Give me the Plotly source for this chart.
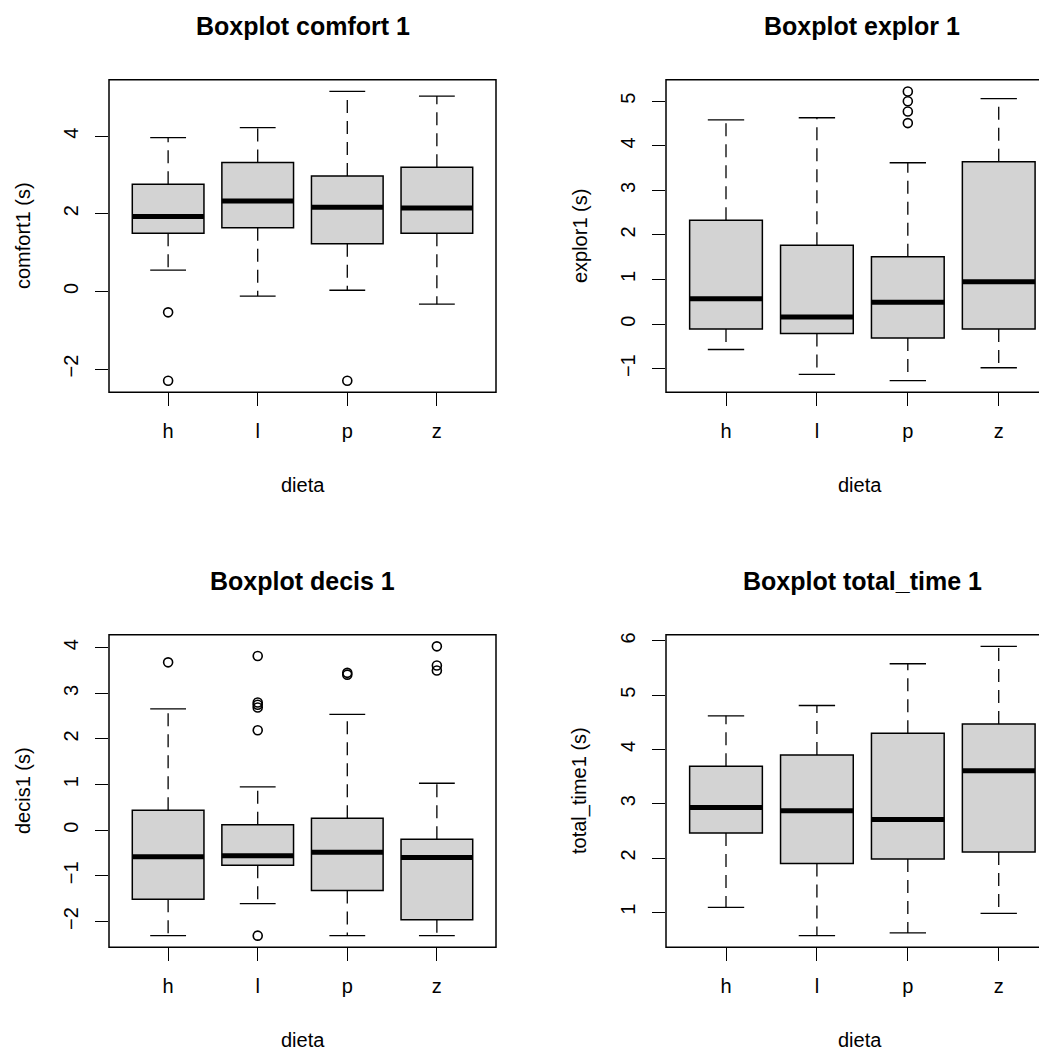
import plotly.graph_objects as go

categories = ["h", "l", "p", "z"]
positions = [1, 2, 3, 4]

# comfort1
comfort_lower = [0.55, -0.12, 0.03, -0.33]
comfort_q1 = [1.50, 1.64, 1.23, 1.50]
comfort_median = [1.93, 2.33, 2.17, 2.15]
comfort_q3 = [2.76, 3.32, 2.97, 3.20]
comfort_upper = [3.96, 4.22, 5.15, 5.03]
comfort_out_x = ["h", "h", "p"]
comfort_out_y = [-0.54, -2.30, -2.30]

# explor1
explor_lower = [-0.57, -1.13, -1.27, -0.98]
explor_q1 = [-0.11, -0.21, -0.31, -0.11]
explor_median = [0.57, 0.16, 0.49, 0.95]
explor_q3 = [2.33, 1.77, 1.51, 3.64]
explor_upper = [4.58, 4.63, 3.62, 5.06]
explor_out_x = ["p", "p", "p", "p"]
explor_out_y = [5.22, 5.00, 4.77, 4.51]

# decis1
decis_lower = [-2.31, -1.61, -2.31, -2.31]
decis_q1 = [-1.51, -0.77, -1.32, -1.96]
decis_median = [-0.58, -0.56, -0.48, -0.60]
decis_q3 = [0.44, 0.12, 0.26, -0.20]
decis_upper = [2.66, 0.95, 2.54, 1.03]
decis_out_x = ["h", "l", "l", "l", "l", "l", "l", "p", "p", "z", "z", "z"]
decis_out_y = [3.68, 3.82, 2.80, 2.75, 2.69, 2.19, -2.31, 3.45, 3.41, 4.03, 3.61, 3.50]

# total_time1
total_lower = [1.09, 0.57, 0.62, 0.98]
total_q1 = [2.46, 1.90, 1.98, 2.11]
total_median = [2.93, 2.87, 2.71, 3.61]
total_q3 = [3.69, 3.90, 4.30, 4.47]
total_upper = [4.62, 4.81, 5.58, 5.90]
total_out_x = []
total_out_y = []

titles = ["Boxplot comfort 1", "Boxplot explor 1", "Boxplot decis 1", "Boxplot total_time 1"]
ylabels = ["comfort1 (s)", "explor1 (s)", "decis1 (s)", "total_time1 (s)"]
xlabel = "dieta"
yticks = [[-2, 0, 2, 4], [-1, 0, 1, 2, 3, 4, 5], [-2, -1, 0, 1, 2, 3, 4], [1, 2, 3, 4, 5, 6]]

panels = [
    (comfort_lower, comfort_q1, comfort_median, comfort_q3, comfort_upper, comfort_out_x, comfort_out_y),
    (explor_lower, explor_q1, explor_median, explor_q3, explor_upper, explor_out_x, explor_out_y),
    (decis_lower, decis_q1, decis_median, decis_q3, decis_upper, decis_out_x, decis_out_y),
    (total_lower, total_q1, total_median, total_q3, total_upper, total_out_x, total_out_y),
]

OFF = 8  # page body margin
W, H = 1047 - OFF, 1050 - OFF
FONT = "Liberation Sans, Arial, Helvetica, sans-serif"
GRAY = "#d3d3d3"

# pixel layout (in screenshot coordinates) of each plot region: (left, right, top, bottom)
regions = [
    (109, 496, 78, 391),
    (666, 1047, 78, 391),
    (109, 496, 634, 947),
    (666, 1047, 634, 947),
]
xranges = [[0.34, 4.66], [0.34, 4.531], [0.34, 4.66], [0.34, 4.531]]
title_x = [302.5, 862, 302.5, 862]


def px(v):
    return (v - OFF) / W


def py(v):
    return 1 - (v - OFF) / H


fig = go.Figure()
layout = dict(
    width=W, height=H,
    margin=dict(l=0, r=0, t=0, b=0),
    paper_bgcolor="white", plot_bgcolor="white",
    showlegend=False,
    font=dict(family=FONT, size=20, color="black"),
    hovermode=False,
)
annotations = []
shapes = []
pos_of = dict(zip(categories, positions))

for i, (lo, q1, med, q3, up, ox, oy) in enumerate(panels):
    n = "" if i == 0 else str(i + 1)
    xa, ya = "x" + n, "y" + n
    L, R, T, B = regions[i]

    fig.add_trace(go.Box(
        x=positions, q1=q1, median=med, q3=q3, lowerfence=q1, upperfence=q3,
        width=0.8, fillcolor=GRAY, line=dict(color="black", width=1.5),
        boxpoints=False, whiskerwidth=0, xaxis=xa, yaxis=ya,
    ))

    wx, wy, sx, sy, mx, my = [], [], [], [], [], []
    for p, a, b, c, d, e in zip(positions, lo, q1, med, q3, up):
        wx += [p, p, None, p, p, None]
        wy += [d, e, None, b, a, None]
        sx += [p - 0.2, p + 0.2, None, p - 0.2, p + 0.2, None]
        sy += [e, e, None, a, a, None]
        mx += [p - 0.4, p + 0.4, None]
        my += [c, c, None]
    fig.add_trace(go.Scatter(x=wx, y=wy, mode="lines", xaxis=xa, yaxis=ya,
                             line=dict(color="black", width=1.3, dash="13px,8px")))
    fig.add_trace(go.Scatter(x=sx, y=sy, mode="lines", xaxis=xa, yaxis=ya,
                             line=dict(color="black", width=1.3)))
    fig.add_trace(go.Scatter(x=mx, y=my, mode="lines", xaxis=xa, yaxis=ya,
                             line=dict(color="black", width=5)))
    if ox:
        fig.add_trace(go.Scatter(x=[pos_of[c] for c in ox], y=oy, mode="markers",
                                 xaxis=xa, yaxis=ya,
                                 marker=dict(symbol="circle-open", size=9, color="black",
                                             line=dict(width=1.6, color="black"))))

    vals = lo + up + list(oy)
    vmin, vmax = min(vals), max(vals)
    pad = 0.04 * (vmax - vmin)

    layout["xaxis" + n] = dict(
        domain=[px(L), min(px(R), 1.0)], range=xranges[i], anchor=ya,
        tickvals=positions, ticktext=categories, ticks="outside", ticklen=13,
        tickwidth=1.3, tickcolor="black", showgrid=False, zeroline=False,
        showline=False, ticklabelstandoff=8, tickfont=dict(size=20),
    )
    layout["yaxis" + n] = dict(
        domain=[py(B), py(T)], range=[vmin - pad, vmax + pad], anchor=xa,
        tickvals=yticks[i], ticks="outside", ticklen=13, tickwidth=1.3,
        tickcolor="black", showgrid=False, zeroline=False, showline=False,
        tickangle=-90, ticklabelstandoff=9, tickfont=dict(size=20),
    )
    shapes.append(dict(type="rect", xref=xa + " domain", yref=ya + " domain",
                       x0=0, x1=1.0 if R < 1047 else 1.05, y0=0, y1=1,
                       line=dict(color="black", width=1.5), layer="above"))
    annotations.append(dict(text="<b>" + titles[i] + "</b>", x=px(title_x[i]), y=py(T - 54),
                            xref="paper", yref="paper", showarrow=False,
                            xanchor="center", yanchor="middle", font=dict(size=25)))
    annotations.append(dict(text=xlabel, x=px(L + 193.5), y=py(B + 93),
                            xref="paper", yref="paper", showarrow=False,
                            xanchor="center", yanchor="middle", font=dict(size=20)))
    annotations.append(dict(text=ylabels[i], x=px(L - 86), y=py((T + B) / 2),
                            xref="paper", yref="paper", showarrow=False, textangle=-90,
                            xanchor="center", yanchor="middle", font=dict(size=20)))

layout["annotations"] = annotations
layout["shapes"] = shapes
fig.update_layout(**layout)
fig.write_html("out.html")
